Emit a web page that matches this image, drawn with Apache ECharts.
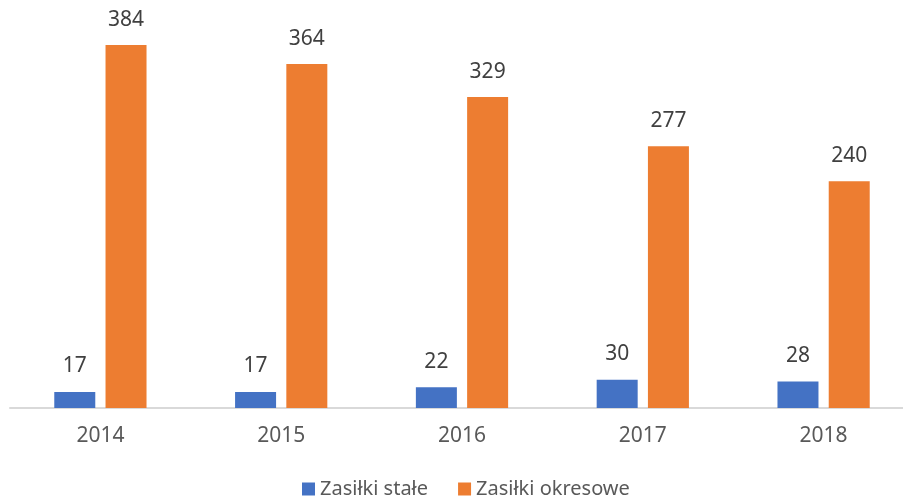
<!DOCTYPE html>
<html>
<head>
<meta charset="utf-8">
<script src="https://cdn.jsdelivr.net/npm/echarts@6/dist/echarts.min.js"></script>
<style>
  html, body { margin: 0; padding: 0; background: #fff; }
  #chart { width: 903px; height: 504px; }
</style>
</head>
<body>
<div id="chart"></div>
<script>
const years = ["2014", "2015", "2016", "2017", "2018"];
const stale = [17, 17, 22, 30, 28];
const okresowe = [384, 364, 329, 277, 240];

const chart = echarts.init(document.getElementById("chart"));
const labelStyle = {
  show: true,
  position: "top",
  distance: 15,
  color: "#404040",
  fontSize: 21,
  fontFamily: "Noto Sans",
};
chart.setOption({
  animation: false,
  textStyle: { fontFamily: "Noto Sans" },
  legend: {
    bottom: 0,
    left: 297,
    icon: "rect",
    itemWidth: 13,
    itemHeight: 13,
    itemGap: 30,
    textStyle: { color: "#595959", fontSize: 20 },
    data: ["Zasiłki stałe", "Zasiłki okresowe"],
  },
  grid: {
    left: 10,
    top: 30,
    width: 904,
    bottom: 96,
    containLabel: false,
    outerBoundsMode: "none",
  },
  xAxis: {
    type: "category",
    data: years,
    axisLine: { lineStyle: { color: "#d9d9d9", width: 2 } },
    axisTick: { show: false },
    axisLabel: { color: "#595959", fontSize: 21, margin: 18 },
  },
  yAxis: {
    type: "value",
    min: 0,
    max: 400,
    show: false,
    splitLine: { show: false },
  },
  series: [
    {
      name: "Zasiłki stałe",
      type: "bar",
      data: stale,
      barWidth: 41,
      barGap: "25%",
      itemStyle: { color: "#4472C4" },
      label: labelStyle,
    },
    {
      name: "Zasiłki okresowe",
      type: "bar",
      data: okresowe,
      barWidth: 41,
      itemStyle: { color: "#ED7D31" },
      label: labelStyle,
    },
  ],
});
</script>
</body>
</html>
